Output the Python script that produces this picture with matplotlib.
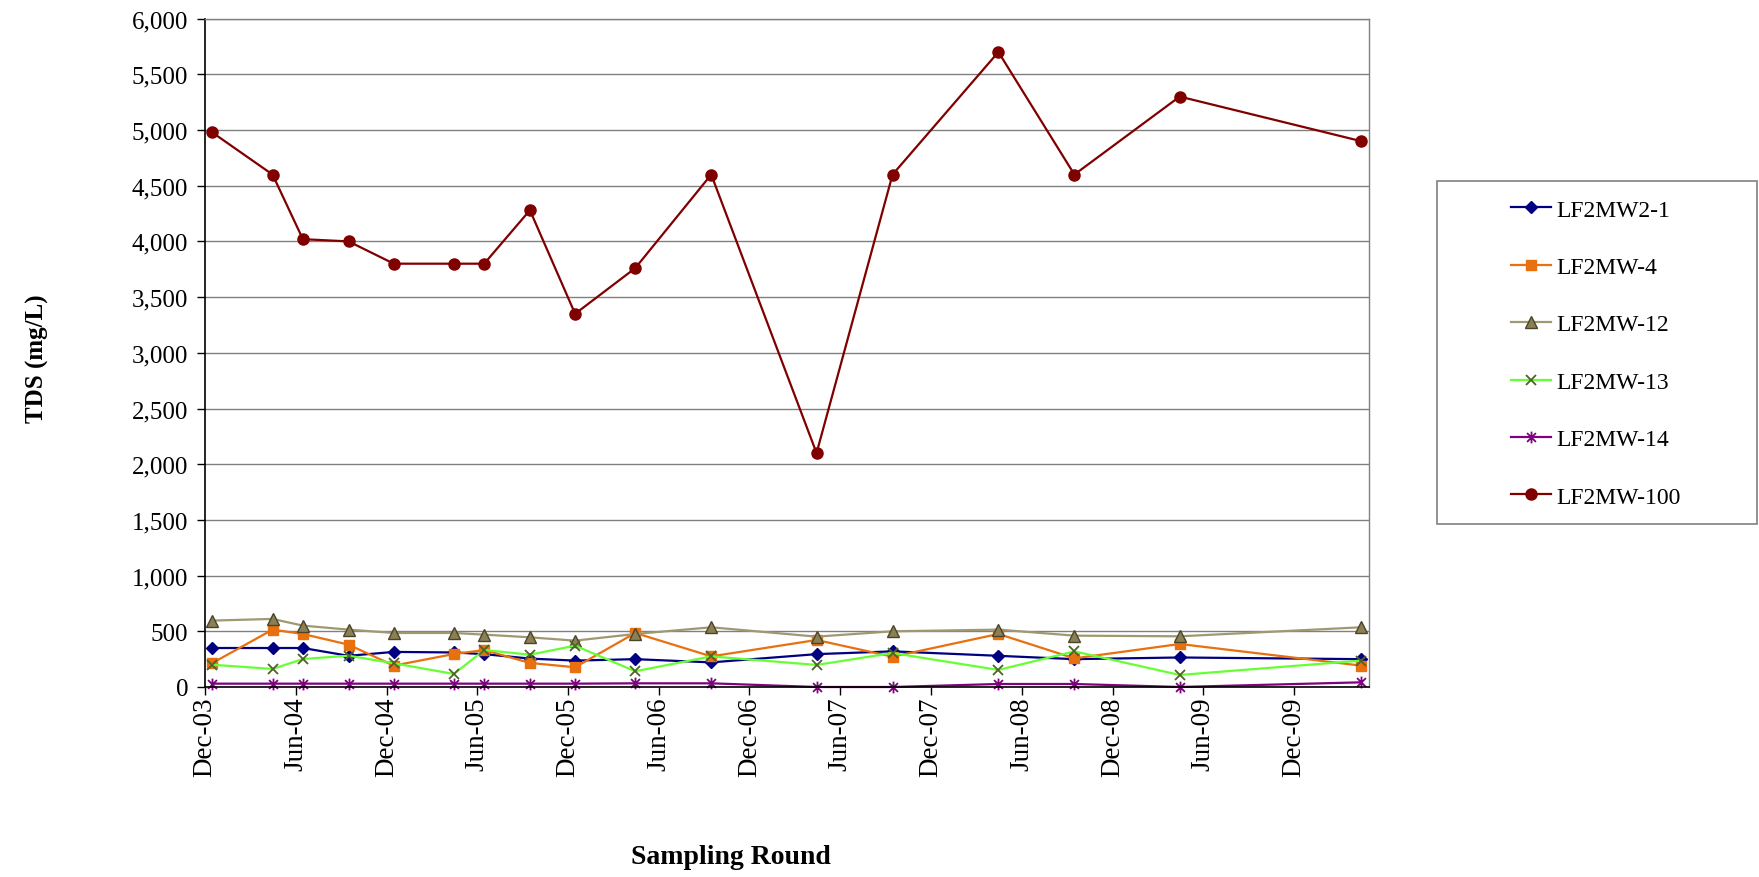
import matplotlib
matplotlib.use("Agg")
import matplotlib.pyplot as plt
import matplotlib.dates as mdates
from matplotlib.patches import Rectangle
from matplotlib.path import Path
from matplotlib.ticker import FuncFormatter, MultipleLocator
import datetime as dt

# sampling dates (one per round)
sample_dates = ["2003-12-15", "2004-04-15", "2004-06-15", "2004-09-15", "2004-12-15",
                "2005-04-15", "2005-06-15", "2005-09-15", "2005-12-15", "2006-04-15",
                "2006-09-15", "2007-04-15", "2007-09-15", "2008-04-15", "2008-09-15",
                "2009-04-15", "2010-04-15"]

# TDS (mg/L) per well
lf2mw2_1 = [350, 350, 350, 280, 315, 310, 295, 255, 237, 250, 221, 295, 320, 280, 250, 265, 250]
lf2mw_4 = [213, 515, 476, 380, 192, 296, 332, 216, 177, 485, 275, 422, 272, 476, 257, 386, 192]
lf2mw_12 = [596, 611, 551, 515, 485, 485, 470, 446, 416, 476, 536, 452, 500, 515, 461, 455, 536]
lf2mw_13 = [200, 162, 251, 281, 213, 117, 332, 290, 371, 141, 275, 198, 305, 153, 320, 108, 237]
lf2mw_14 = [30, 30, 30, 30, 30, 30, 30, 30, 30, 33, 33, 0, 0, 27, 27, 0, 42]
lf2mw_100 = [4980, 4600, 4020, 4000, 3800, 3800, 3800, 4280, 3350, 3760, 4600, 2100,
             4600, 5700, 4600, 5300, 4900]

series_names = ["LF2MW2-1", "LF2MW-4", "LF2MW-12", "LF2MW-13", "LF2MW-14", "LF2MW-100"]

dates = [dt.datetime.strptime(d, "%Y-%m-%d") for d in sample_dates]

plt.rcParams['font.family'] = ['Liberation Serif', 'DejaVu Serif']

fig = plt.figure(figsize=(17.59, 8.78), dpi=100)
W, H = 1759, 878
ax = fig.add_axes([205 / W, 1 - 688 / H, (1369 - 205) / W, (688 - 19.6) / H])

# excel style asterisk: x plus vertical bar
asterisk = Path([(0, -1), (0, 1), (-0.75, -0.75), (0.75, 0.75), (-0.75, 0.75), (0.75, -0.75)],
                [Path.MOVETO, Path.LINETO] * 3)

styles = [
    dict(color='#000080', marker='D', ms=6.5, mfc='#000080', mec='#000080'),
    dict(color='#E8700E', marker='s', ms=7.5, mfc='#E8700E', mec='#E8700E'),
    dict(color='#A09870', marker='^', ms=8.5, mfc='#8B8055', mec='#4A4528'),
    dict(color='#66FF33', marker='x', ms=7.5, mfc='none', mec='#4F6228', mew=1.3),
    dict(color='#800080', marker=asterisk, ms=8.5, mfc='none', mec='#800080', mew=1.3),
    dict(color='#800000', marker='o', ms=8, mfc='#800000', mec='#800000'),
]
all_series = [lf2mw2_1, lf2mw_4, lf2mw_12, lf2mw_13, lf2mw_14, lf2mw_100]

handles = []
for name, vals, st in zip(series_names, all_series, styles):
    h, = ax.plot(dates, vals, lw=1.6, label=name, clip_on=False, **st)
    handles.append(h)

ax.set_ylim(0, 6000)
ax.set_xlim(dt.datetime(2003, 12, 1), dt.datetime(2010, 5, 1))
ax.yaxis.set_major_locator(MultipleLocator(500))
ax.yaxis.set_major_formatter(FuncFormatter(lambda v, p: f"{int(v):,}"))
ax.xaxis.set_major_locator(mdates.MonthLocator(bymonth=[6, 12]))
ax.xaxis.set_major_formatter(mdates.DateFormatter("%b-%y"))

ax.grid(axis='y', color='#808080', lw=1.0)
ax.set_axisbelow(True)
for s in ['top', 'right']:
    ax.spines[s].set_color('#808080')
    ax.spines[s].set_linewidth(1.0)
for s in ['left', 'bottom']:
    ax.spines[s].set_color('black')
    ax.spines[s].set_linewidth(1.2)

ax.tick_params(axis='y', direction='out', length=6, width=1, pad=6, labelsize=18)
ax.tick_params(axis='x', direction='out', length=6, width=1, pad=1, labelsize=19.5,
               labelrotation=90)

fig.text(37 / W, 1 - 359 / H, "TDS (mg/L)", rotation=90, ha='center', va='center',
         fontsize=18, fontweight='bold')
fig.text(731 / W, 1 - 858 / H, "Sampling Round", ha='center', va='center',
         fontsize=20, fontweight='bold')

# legend box
fig.patches.append(Rectangle((1437 / W, 1 - 525 / H), (1757 - 1437) / W, (525 - 182) / H,
                             transform=fig.transFigure, fill=False, ec='#808080', lw=1.2))
fig.legend(handles=handles, loc='upper left', bbox_to_anchor=(1511 / W, 1 - 200 / H),
           frameon=False, fontsize=17, handlelength=1.7, handletextpad=0.2,
           labelspacing=1.52, borderpad=0, borderaxespad=0)

fig.savefig("out.png", dpi=100)
